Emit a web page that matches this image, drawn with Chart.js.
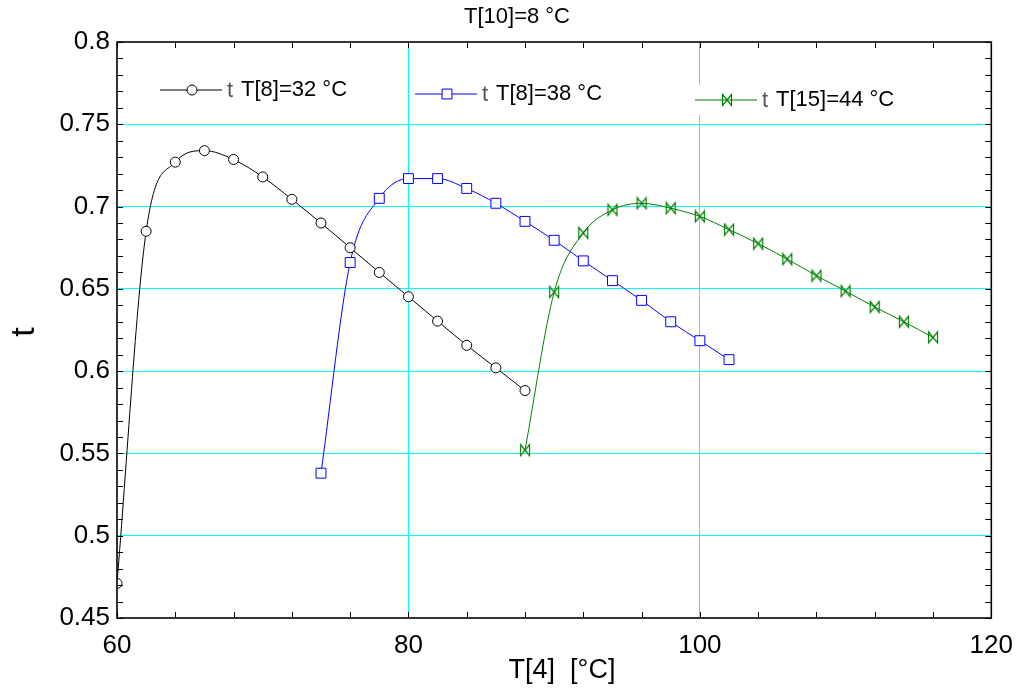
<!DOCTYPE html>
<html>
<head>
<meta charset="utf-8">
<script src="https://cdn.jsdelivr.net/npm/chart.js@4.4.0/dist/chart.umd.min.js"></script>
<style>
  html, body { margin: 0; padding: 0; background: #fff; }
  #wrap { width: 1025px; height: 691px; }
</style>
</head>
<body>
<div id="wrap"><canvas id="chart" width="1025" height="691"></canvas></div>
<script>
// T[4] values for each run and the resulting t
const temp32 = [60, 62, 64, 66, 68, 70, 72, 74, 76, 78, 80, 82, 84, 86, 88];
const eff32 = [0.471, 0.685, 0.727, 0.734, 0.7286, 0.718, 0.7044, 0.690, 0.675, 0.660, 0.6452, 0.6304, 0.6157, 0.602, 0.5882];

const temp38 = [74, 76, 78, 80, 82, 84, 86, 88, 90, 92, 94, 96, 98, 100, 102];
const eff38 = [0.538, 0.666, 0.705, 0.717, 0.717, 0.711, 0.702, 0.691, 0.6795, 0.667, 0.655, 0.643, 0.630, 0.6185, 0.607];

const temp44 = [88, 90, 92, 94, 96, 98, 100, 102, 104, 106, 108, 110, 112, 114, 116];
const eff44 = [0.552, 0.648, 0.684, 0.698, 0.702, 0.699, 0.694, 0.686, 0.6775, 0.668, 0.658, 0.6486, 0.639, 0.630, 0.6205];

const seriesNames = ['T[8]=32 °C', 'T[8]=38 °C', 'T[15]=44 °C'];
const chartTitle = 'T[10]=8 °C';
const xTitle = 'T[4]  [°C]';
const yTitle = 't';

const FONT = '"Liberation Sans", Arial, sans-serif';
const GRID = '#00ffff';

function toPoints(xs, ys) {
    return xs.map((x, i) => ({ x: x, y: ys[i] }));
}

// bow-tie marker used by the third run
function bowtie(color) {
    const c = document.createElement('canvas');
    c.width = 12;
    c.height = 14;
    const g = c.getContext('2d');
    g.strokeStyle = color;
    g.lineWidth = 1.2;
    g.beginPath();
    g.moveTo(1.5, 1.5);
    g.lineTo(10.5, 12.5);
    g.lineTo(10.5, 1.5);
    g.lineTo(1.5, 12.5);
    g.closePath();
    g.stroke();
    return c;
}

// where each legend entry sits inside the plot
const legendSpots = [
    { x: 160, y: 90 },
    { x: 415, y: 94 },
    { x: 695, y: 100 }
];

const decorPlugin = {
    id: 'decor',
    afterDatasetsDraw(chart) {
        const ctx = chart.ctx;
        ctx.save();
        chart.data.datasets.forEach((ds, i) => {
            const spot = legendSpots[i];
            ctx.font = '22px ' + FONT;
            const w = ctx.measureText(ds.label).width;
            ctx.fillStyle = '#fff';
            ctx.fillRect(spot.x - 6, spot.y - 15, 82 + w + 10, 30);

            ctx.strokeStyle = ds.borderColor;
            ctx.lineWidth = 1;
            ctx.beginPath();
            ctx.moveTo(spot.x, spot.y);
            ctx.lineTo(spot.x + 62, spot.y);
            ctx.stroke();
            Chart.helpers.drawPoint(ctx, {
                pointStyle: ds.pointStyle,
                radius: ds.pointRadius,
                borderWidth: 1,
                rotation: 0
            }, spot.x + 32, spot.y);

            ctx.textBaseline = 'middle';
            ctx.textAlign = 'left';
            ctx.fillStyle = '#555';
            ctx.font = '22px "Liberation Sans Narrow", ' + FONT;
            ctx.fillText(yTitle, spot.x + 67, spot.y + 1);
            ctx.fillStyle = '#000';
            ctx.font = '22px ' + FONT;
            ctx.fillText(ds.label, spot.x + 81, spot.y);
        });
        ctx.restore();
    },
    afterDraw(chart) {
        const ctx = chart.ctx;
        const a = chart.chartArea;
        const xs = chart.scales.x;
        const ys = chart.scales.y;
        ctx.save();
        ctx.strokeStyle = '#000';
        ctx.lineWidth = 1;
        // inward tick marks on all four sides
        ctx.beginPath();
        xs.ticks.forEach(t => {
            const px = Math.round(xs.getPixelForValue(t.value)) + 0.5;
            ctx.moveTo(px, a.bottom);
            ctx.lineTo(px, a.bottom - 6);
            ctx.moveTo(px, a.top);
            ctx.lineTo(px, a.top + 6);
        });
        ys.ticks.forEach(t => {
            const py = Math.round(ys.getPixelForValue(t.value)) + 0.5;
            ctx.moveTo(a.left, py);
            ctx.lineTo(a.left + 6, py);
            ctx.moveTo(a.right, py);
            ctx.lineTo(a.right - 6, py);
        });
        ctx.stroke();
        // plot frame
        ctx.lineWidth = 1.6;
        ctx.strokeRect(a.left, a.top, a.right - a.left, a.bottom - a.top);

        // titles
        ctx.fillStyle = '#000';
        ctx.textAlign = 'center';
        ctx.textBaseline = 'middle';
        ctx.font = '22px ' + FONT;
        ctx.fillText(chartTitle, 517, 17);
        ctx.font = '27px ' + FONT;
        ctx.fillText(xTitle, 562, 671);
        ctx.translate(25, 332);
        ctx.rotate(-Math.PI / 2);
        ctx.font = '34px ' + FONT;
        ctx.fillText(yTitle, 0, 0);
        ctx.restore();
    }
};

function makeSet(label, xs, ys, color, style, radius) {
    return {
        label: label,
        data: toPoints(xs, ys),
        borderColor: color,
        backgroundColor: '#fff',
        borderWidth: 1,
        pointStyle: style,
        pointRadius: radius,
        pointBorderColor: color,
        pointBackgroundColor: '#fff',
        pointBorderWidth: 1,
        cubicInterpolationMode: 'monotone',
        fill: false
    };
}

const ctx = document.getElementById('chart').getContext('2d');
new Chart(ctx, {
    type: 'line',
    data: {
        datasets: [
            makeSet(seriesNames[0], temp32, eff32, '#000000', 'circle', 5),
            makeSet(seriesNames[1], temp38, eff38, '#0000ff', 'rect', 7),
            makeSet(seriesNames[2], temp44, eff44, '#008000', bowtie('#008000'), 6)
        ]
    },
    options: {
        responsive: false,
        animation: false,
        devicePixelRatio: 1,
        layout: { padding: { left: 0, top: 42, right: 33, bottom: 0 } },
        plugins: {
            legend: { display: false },
            title: { display: false },
            tooltip: { enabled: false }
        },
        scales: {
            x: {
                type: 'linear',
                min: 60,
                max: 120,
                afterFit: s => { s.height = 73; },
                border: { display: false },
                grid: {
                    drawTicks: false,
                    lineWidth: 1,
                    color: c => (c.tick && c.tick.value % 20 === 0 && c.tick.value > 60 && c.tick.value < 120) ? GRID : 'rgba(0,0,0,0)'
                },
                ticks: {
                    stepSize: 4,
                    autoSkip: false,
                    maxRotation: 0,
                    padding: 12,
                    color: '#000',
                    font: { family: FONT, size: 26 },
                    callback: v => (v % 20 === 0 ? String(v) : '')
                }
            },
            y: {
                type: 'linear',
                min: 0.45,
                max: 0.8,
                afterFit: s => { s.width = 117; },
                border: { display: false },
                grid: {
                    drawTicks: false,
                    lineWidth: 1,
                    color: c => {
                        if (!c.tick) return 'rgba(0,0,0,0)';
                        const k = Math.round(c.tick.value * 100);
                        return (k % 5 === 0 && k > 45 && k < 80) ? GRID : 'rgba(0,0,0,0)';
                    }
                },
                ticks: {
                    stepSize: 0.01,
                    autoSkip: false,
                    padding: 7,
                    color: '#000',
                    font: { family: FONT, size: 26 },
                    callback: v => {
                        const k = Math.round(v * 100);
                        return k % 5 === 0 ? String(k / 100) : '';
                    }
                }
            }
        }
    },
    plugins: [decorPlugin]
});
</script>
</body>
</html>
